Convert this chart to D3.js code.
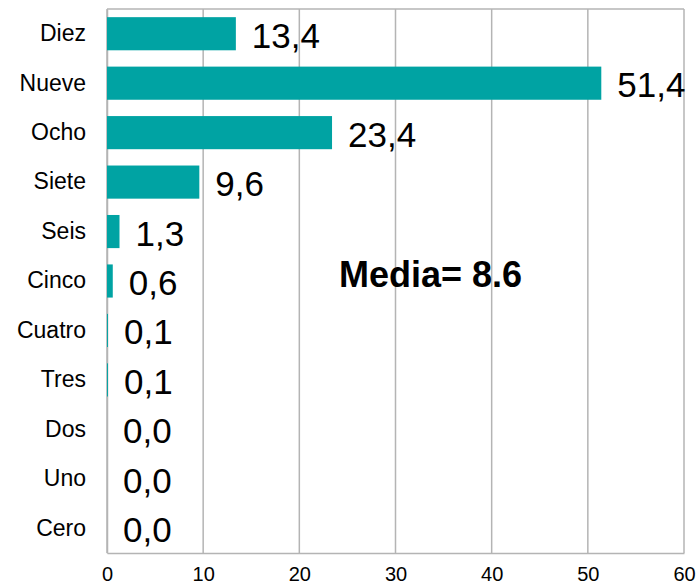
<!DOCTYPE html>
<html lang="es">
<head>
  <meta charset="UTF-8">
  <title>Distribución de puntuaciones</title>
  <script src="https://d3js.org/d3.v7.min.js"></script>
  <style>
    body { margin:0; background:#fff; }
    svg { display:block; }
    text { font-family: "Liberation Sans", Arial, sans-serif; fill:#000; }
  </style>
</head>
<body>
  <script>
    // data
    const categories = ["Diez","Nueve","Ocho","Siete","Seis","Cinco","Cuatro","Tres","Dos","Uno","Cero"];
    const values = [13.4, 51.4, 23.4, 9.6, 1.3, 0.6, 0.1, 0.1, 0.0, 0.0, 0.0];
    const xTicks = [0, 10, 20, 30, 40, 50, 60];
    const note = "Media= 8.6";

    const width = 698, height = 587;
    const margin = {top: 9, right: 14, bottom: 34, left: 107};
    const barColor = "#00a3a3";
    const gridColor = "#b4b4b4";

    const svg = d3.select("body").append("svg")
      .attr("width", width)
      .attr("height", height);

    const x = d3.scaleLinear()
      .domain([0, 60])
      .range([margin.left, width - margin.right]);

    const y = d3.scaleBand()
      .domain(categories)
      .range([margin.top, height - margin.bottom])
      .paddingInner(0.33)
      .paddingOuter(0.165);

    // grid lines + frame
    svg.append("g")
      .selectAll("line")
      .data(xTicks)
      .join("line")
        .attr("x1", d => x(d)).attr("x2", d => x(d))
        .attr("y1", margin.top).attr("y2", height - margin.bottom)
        .attr("stroke", gridColor)
        .attr("stroke-width", 1.5);

    svg.append("line")
      .attr("x1", x(0)).attr("x2", x(60))
      .attr("y1", margin.top).attr("y2", margin.top)
      .attr("stroke", gridColor).attr("stroke-width", 1.5);

    // x axis
    const xAxis = svg.append("g")
      .attr("transform", `translate(0,${height - margin.bottom})`)
      .call(d3.axisBottom(x).tickValues(xTicks).tickSize(0).tickPadding(14));
    xAxis.select(".domain").attr("stroke", gridColor).attr("stroke-width", 1.5);
    xAxis.selectAll("text").style("font-size", "20px");

    // y axis
    const yAxis = svg.append("g")
      .attr("transform", `translate(${margin.left},0)`)
      .call(d3.axisLeft(y).tickSize(0).tickPadding(21));
    yAxis.select(".domain").attr("stroke", gridColor).attr("stroke-width", 1.5);
    yAxis.selectAll("text").style("font-size", "23px");

    // bars
    svg.append("g")
      .selectAll("rect")
      .data(values)
      .join("rect")
        .attr("x", x(0))
        .attr("y", (d, i) => y(categories[i]))
        .attr("width", d => x(d) - x(0))
        .attr("height", y.bandwidth())
        .attr("fill", barColor);

    // value labels
    svg.append("g")
      .selectAll("text")
      .data(values)
      .join("text")
        .attr("x", d => x(d) + 16)
        .attr("y", (d, i) => y(categories[i]) + y.bandwidth() / 2)
        .attr("dy", "0.4em")
        .style("font-size", "35px")
        .text(d => d3.format(".1f")(d).replace(".", ","));

    // mean annotation
    svg.append("text")
      .attr("x", 339)
      .attr("y", 287)
      .style("font-size", "36px")
      .style("font-weight", "bold")
      .text(note);
  </script>
</body>
</html>
